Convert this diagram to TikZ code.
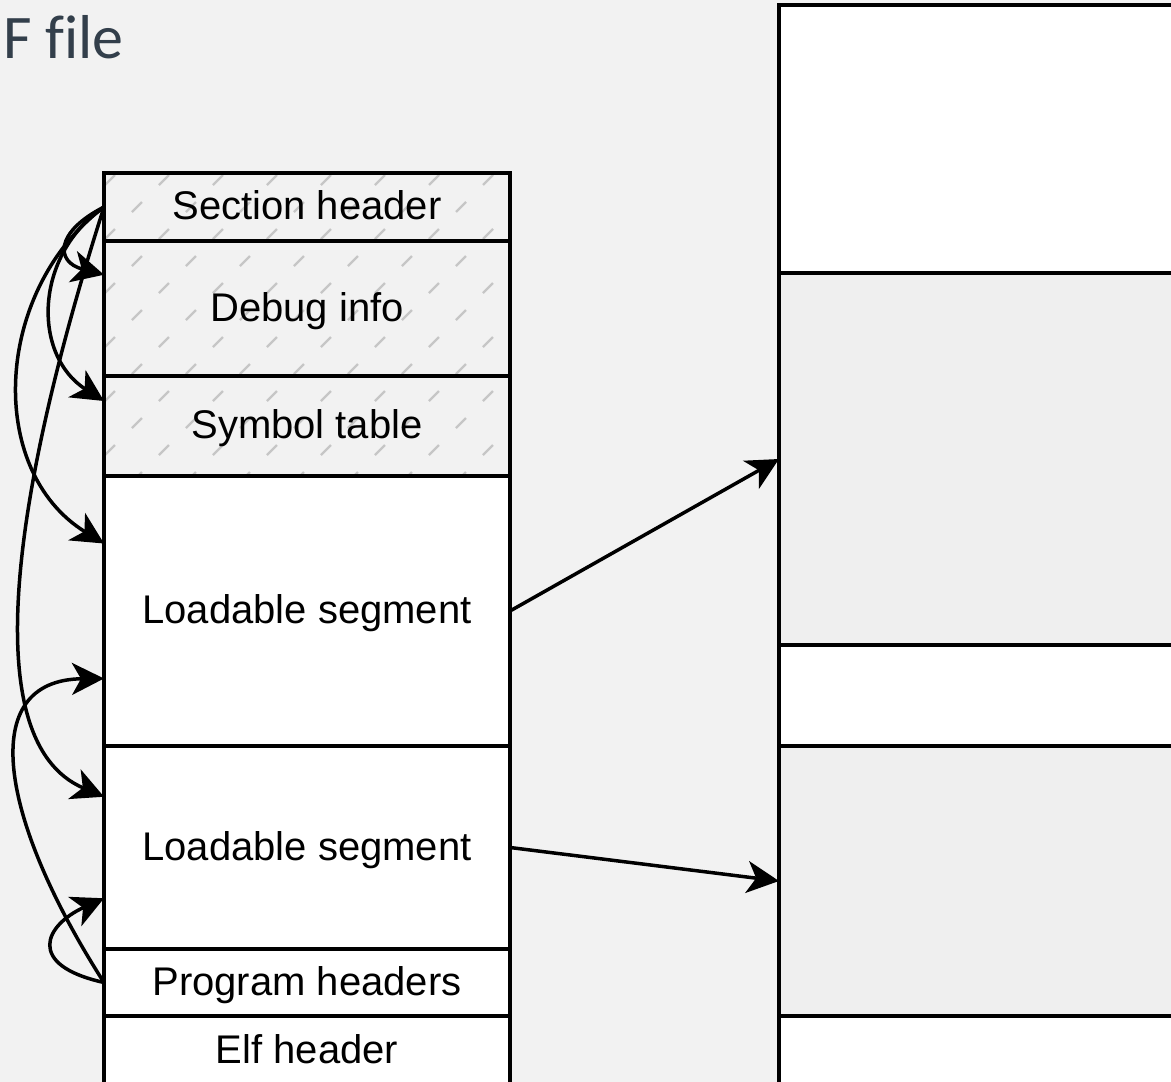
\documentclass[tikz,border=0pt]{standalone}
\usepackage{fontspec}
\setmainfont{Liberation Sans}
\newfontfamily\titlefont[Ligatures=NoCommon]{Carlito}
\usetikzlibrary{arrows.meta,calc,backgrounds}
\definecolor{bgcol}{HTML}{F2F2F2}
\definecolor{segcol}{HTML}{EFEFEF}
\definecolor{hatchcol}{HTML}{C6C6C6}
\definecolor{titlecol}{HTML}{333F4B}

\begin{document}
\begin{tikzpicture}[x=1pt,y=-1pt,
  cell/.style={draw=black, line width=3.4pt, minimum width=406pt, inner sep=0pt,
    outer sep=0pt, anchor=north west, font=\fontsize{40}{48}\selectfont,
    text height=37pt, text depth=12pt},
  mem/.style={draw=black, line width=3.4pt, minimum width=420pt, inner sep=0pt,
    outer sep=0pt, anchor=north west},
  link/.style={line width=3.5pt, -{Stealth[length=32pt,width=32pt,inset=9pt]}},
  hatchmark/.style={draw=hatchcol, line width=2.2pt},
]
\useasboundingbox (0,0) rectangle (1171,1082);
\clip (0,0) rectangle (1171,1082);

% title
\node (title) [anchor=base west, inner sep=0pt, text=titlecol,
  font=\titlefont\fontsize{62}{70}\selectfont] at (3,58) {F file};

% file layout (left column)
\node (sec) [cell, minimum height=68pt]  at (104,173) {Section header};
\node (dbg) [cell, minimum height=135pt] at (104,241) {Debug info};
\node (sym) [cell, minimum height=100pt] at (104,376) {Symbol table};
\node (ls1) [cell, fill=white, minimum height=270pt] at (104,476) {Loadable segment};
\node (ls2) [cell, fill=white, minimum height=203pt] at (104,746) {Loadable segment};
\node (ph)  [cell, fill=white, minimum height=67pt]  at (104,949) {Program headers};
\node (elf) [cell, fill=white, minimum height=74pt, text depth=16pt] at (104,1016) {Elf header};

% memory image (right column)
\node (m1) [mem, fill=white,  minimum height=268pt] at (779,5) {};
\node (m2) [mem, fill=segcol, minimum height=372pt] at (779,273) {};
\node (m3) [mem, fill=white,  minimum height=101pt] at (779,645) {};
\node (m4) [mem, fill=segcol, minimum height=270pt] at (779,746) {};
\node (m5) [mem, fill=white,  minimum height=80pt]  at (779,1016) {};

% attachment points on the left edge
\coordinate (dbgIn) at ($(dbg.north west)!0.25!(dbg.south west)$);
\coordinate (symIn) at ($(sym.north west)!0.25!(sym.south west)$);
\coordinate (lsAIn) at ($(ls1.north west)!0.25!(ls1.south west)$);
\coordinate (lsBIn) at ($(ls1.north west)!0.75!(ls1.south west)$);
\coordinate (lsCIn) at ($(ls2.north west)!0.25!(ls2.south west)$);
\coordinate (lsDIn) at ($(ls2.north west)!0.75!(ls2.south west)$);

% section header references
\draw[link] (sec.west) .. controls (55,232) and (55,262) .. (dbgIn);
\draw[link] (sec.west) .. controls (34,255) and (32,355) .. (symIn);
\draw[link] (sec.west) .. controls (-6,290) and (-15,470) .. (lsAIn);
\draw[link] (sec.west) .. controls (20,470) and (-30,740) .. (lsCIn);

% program header references
\draw[link] (ph.west) .. controls (25,965) and (45,925) .. (lsDIn);
\draw[link] (ph.west) .. controls (0,820) and (-25,680) .. (lsBIn);

% mapping into memory
\draw[link] (ls1.east) -- (m2.west);
\draw[link] (ls2.east) -- (m4.west);

% backdrop and hatching of the non-loaded sections
\begin{pgfonlayer}{background}
  \fill[bgcol] (0,0) rectangle (1171,1082);
  \begin{scope}
    \clip (sec.north west) rectangle (sym.south east);
    \foreach \r [evaluate=\r as \yy using 180+27*\r,
                 evaluate=\r as \sh using {mod(\r,2)*27}] in {0,...,11} {
      \foreach \c [evaluate=\c as \xx using 110+\sh+54*\c] in {0,...,7} {
        \draw[hatchmark] (\xx-5,\yy+5) -- (\xx+5,\yy-5);
      }
    }
  \end{scope}
\end{pgfonlayer}
\end{tikzpicture}
\end{document}
